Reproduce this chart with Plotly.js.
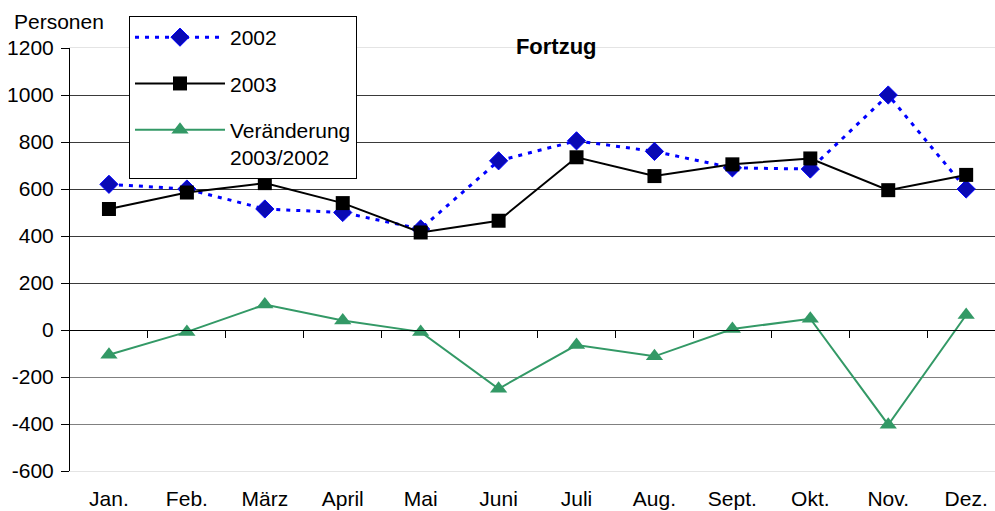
<!DOCTYPE html>
<html>
<head>
<meta charset="utf-8">
<script src="https://cdn.plot.ly/plotly-3.0.1.min.js"></script>
<style>html,body{margin:0;padding:0;background:#fff;}#chart{width:995px;height:511px;}</style>
</head>
<body>
<div id="chart"></div>
<script>
const months = ["Jan.", "Feb.", "März", "April", "Mai", "Juni", "Juli", "Aug.", "Sept.", "Okt.", "Nov.", "Dez."];
const values2002 = [620, 600, 515, 500, 430, 720, 805, 760, 690, 685, 1000, 600];
const values2003 = [515, 585, 625, 540, 415, 465, 735, 655, 705, 730, 595, 660];
const change = [-105, -8, 108, 40, -8, -250, -64, -112, 4, 48, -403, 64];
const yTicks = [-600, -400, -200, 0, 200, 400, 600, 800, 1000, 1200];
const seriesNames = ["2002", "2003", "Veränderung<br>2003/2002"];
const yAxisLabel = "Personen";
const chartTitle = "Fortzug";

const FONT = "Liberation Sans, Arial, sans-serif";
const xRange = [-0.5, 11.37];
const yRange = [-600, 1200];
const boundaryTicks = months.slice(1).map((m, i) => i + 0.5);

const traces = [
  {
    x: months, y: values2002, name: seriesNames[0], type: "scatter", mode: "lines+markers",
    line: {color: "#0000ff", width: 3, dash: "4px,6px"},
    marker: {symbol: "diamond", size: 14, color: "#0a0ab4", line: {color: "#0000ff", width: 1}},
    legendgroup: "a", xaxis: "x", yaxis: "y"
  },
  {
    x: months, y: values2003, name: seriesNames[1], type: "scatter", mode: "lines+markers",
    line: {color: "#000000", width: 2},
    marker: {symbol: "square", size: 14, color: "#000000"},
    legendgroup: "b", xaxis: "x", yaxis: "y"
  },
  {
    x: months, y: change, name: seriesNames[2], type: "scatter", mode: "lines+markers",
    line: {color: "#339966", width: 2},
    marker: {symbol: "triangle-up", size: 15, color: "#339966"},
    legendgroup: "c", xaxis: "x2", yaxis: "y2"
  }
];

const layout = {
  width: 995, height: 511,
  margin: {l: 70, r: 0, t: 48, b: 40, pad: 0},
  paper_bgcolor: "#ffffff", plot_bgcolor: "#ffffff",
  font: {family: FONT, size: 22, color: "#000000"},
  showlegend: true,
  title: {
    text: "<b>" + chartTitle + "</b>",
    font: {family: FONT, size: 22, color: "#000000"},
    x: 0.559, xref: "container", xanchor: "center",
    y: 1 - 46 / 511, yref: "container", yanchor: "middle"
  },
  annotations: [{
    text: yAxisLabel, xref: "paper", yref: "paper",
    x: (12 - 70) / 925, xanchor: "left",
    y: 1 + (48 - 22) / 423, yanchor: "middle",
    showarrow: false, font: {family: FONT, size: 21, color: "#000000"}
  }],
  xaxis: {
    type: "category", range: xRange, fixedrange: true,
    showline: true, mirror: true, linecolor: "#e4e4e4", linewidth: 1,
    ticks: "outside", ticklen: 9, tickcolor: "rgba(0,0,0,0)",
    showgrid: false, zeroline: false,
    tickfont: {family: FONT, size: 21, color: "#000000"}
  },
  xaxis2: {
    type: "category", range: xRange, overlaying: "x", anchor: "free", position: 1 / 3,
    side: "bottom", fixedrange: true,
    showline: true, linecolor: "#000000", linewidth: 1,
    tickmode: "array", tickvals: boundaryTicks, ticktext: boundaryTicks.map(() => ""),
    ticks: "outside", ticklen: 7, tickwidth: 1, tickcolor: "#000000",
    showticklabels: false, showgrid: false, zeroline: false
  },
  yaxis: {
    range: yRange, fixedrange: true,
    tickmode: "array", tickvals: yTicks, ticktext: yTicks.map(String),
    ticks: "outside", ticklen: 8, tickwidth: 1, tickcolor: "#000000",
    ticklabelstandoff: 3,
    showline: true, linecolor: "#000000", linewidth: 1,
    showgrid: false, zeroline: false,
    minor: {tickvals: [200, 400, 600, 800, 1000], showgrid: true, gridcolor: "#3a3a3a", gridwidth: 1, ticks: ""},
    tickfont: {family: FONT, size: 21, color: "#000000"}
  },
  yaxis2: {
    range: yRange, overlaying: "y", anchor: "x", fixedrange: true,
    tickmode: "array", tickvals: [-400, -200],
    showticklabels: false, ticks: "", showgrid: true, gridcolor: "#808080", gridwidth: 1,
    zeroline: false, showline: false
  },
  legend: {
    x: (129 - 70) / 925, xanchor: "left",
    y: 1 + (48 - 16) / 423, yanchor: "top",
    bgcolor: "#ffffff", bordercolor: "#000000", borderwidth: 1,
    font: {family: FONT, size: 21, color: "#000000"},
    traceorder: "grouped", tracegroupgap: 16, itemwidth: 90, valign: "top"
  }
};

Plotly.newPlot("chart", traces, layout, {displayModeBar: false, staticPlot: true});
</script>
</body>
</html>
